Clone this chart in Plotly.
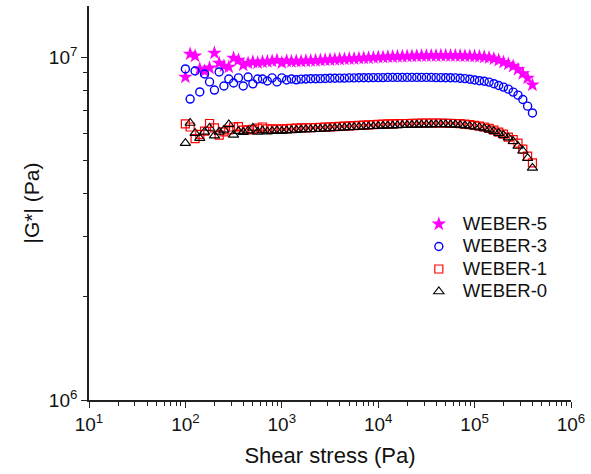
import plotly.graph_objects as go

# Shear stress sweep (Pa), 20 points per decade
shear_stress = [
    100, 112, 126, 141, 158, 178, 200, 224, 251, 282, 316, 355, 398, 447, 501, 562, 631, 708, 794, 891,
    1000, 1122, 1259, 1413, 1585, 1778, 1995, 2239, 2512, 2818, 3162, 3548, 3981, 4467, 5012, 5623, 6310, 7079, 7943, 8913,
    10000, 11220, 12589, 14125, 15849, 17783, 19953, 22387, 25119, 28184, 31623, 35481, 39811, 44668, 50119, 56234, 63096, 70795, 79433, 89125,
    100000, 112202, 125893, 141254, 158489, 177828, 199526, 223872, 251189, 281838, 316228, 354813, 398107,
]

# |G*| in MPa for each sample
weber5 = [
    8.74, 10.20, 10.07, 9.23, 9.10, 9.29, 10.27, 9.60, 9.41, 9.35, 9.93, 9.80, 9.48, 9.60, 9.67, 9.62, 9.67, 9.70, 9.73, 9.78,
    9.62, 9.74, 9.70, 9.72, 9.71, 9.74, 9.75, 9.77, 9.78, 9.80,
    9.82, 9.83, 9.85, 9.86, 9.88, 9.89, 9.91, 9.93, 9.94, 9.96,
    9.98, 9.99, 10.01, 10.02, 10.03, 10.04, 10.05, 10.06, 10.07, 10.08,
    10.08, 10.09, 10.09, 10.10, 10.10, 10.09, 10.09, 10.08, 10.07, 10.06,
    10.05, 10.03, 10.00, 9.95, 9.88, 9.78, 9.65, 9.54, 9.40, 9.20, 8.95, 8.68, 8.29,
]
weber3 = [
    9.23, 7.54, 9.10, 7.91, 8.92, 8.46, 8.01, 9.04, 8.23, 8.63, 8.40, 8.69, 8.23, 8.74, 8.35, 8.63, 8.63, 8.51, 8.69, 8.46,
    8.69, 8.57, 8.63, 8.58, 8.62, 8.63, 8.64, 8.64, 8.65, 8.66,
    8.67, 8.67, 8.68, 8.68, 8.69, 8.69, 8.70, 8.70, 8.70, 8.71,
    8.71, 8.71, 8.72, 8.72, 8.72, 8.72, 8.72, 8.72, 8.72, 8.72,
    8.72, 8.72, 8.71, 8.71, 8.70, 8.70, 8.69, 8.67, 8.65, 8.61,
    8.57, 8.53, 8.50, 8.45, 8.36, 8.26, 8.17, 8.06, 7.90, 7.74, 7.52, 7.19, 6.87,
]
weber1 = [
    6.38, 6.25, 5.78, 5.95, 6.08, 6.40, 6.21, 5.92, 6.05, 6.13, 6.25, 6.27, 6.12, 6.13, 6.15, 6.20, 6.25, 6.17, 6.17, 6.16,
    6.17, 6.18, 6.19, 6.20, 6.21, 6.22, 6.22, 6.23, 6.24, 6.25,
    6.26, 6.27, 6.28, 6.29, 6.30, 6.31, 6.32, 6.33, 6.34, 6.35,
    6.36, 6.37, 6.38, 6.38, 6.39, 6.40, 6.40, 6.41, 6.41, 6.42,
    6.42, 6.42, 6.42, 6.42, 6.41, 6.41, 6.40, 6.39, 6.37, 6.35,
    6.32, 6.29, 6.25, 6.19, 6.12, 6.04, 5.96, 5.84, 5.74, 5.61, 5.39, 5.14, 4.91,
]
weber0 = [
    5.61, 6.42, 6.00, 5.80, 6.05, 6.21, 5.90, 6.05, 6.13, 6.36, 5.93, 6.08, 6.04, 6.10, 6.21, 6.05, 6.10, 6.06, 6.08, 6.10,
    6.08, 6.10, 6.11, 6.12, 6.14, 6.15, 6.15, 6.16, 6.17, 6.18,
    6.19, 6.20, 6.21, 6.22, 6.23, 6.24, 6.25, 6.26, 6.27, 6.28,
    6.29, 6.30, 6.31, 6.31, 6.32, 6.33, 6.33, 6.34, 6.34, 6.35,
    6.35, 6.35, 6.36, 6.36, 6.36, 6.35, 6.35, 6.33, 6.31, 6.29,
    6.26, 6.23, 6.19, 6.14, 6.08, 6.00, 5.92, 5.82, 5.68, 5.50, 5.33, 5.07, 4.75,
]

series_names = ["WEBER-5", "WEBER-3", "WEBER-1", "WEBER-0"]

# decade ticks
x_tick_vals = [1e1, 1e2, 1e3, 1e4, 1e5, 1e6]
x_tick_text = ["10<sup>1</sup>", "10<sup>2</sup>", "10<sup>3</sup>", "10<sup>4</sup>", "10<sup>5</sup>", "10<sup>6</sup>"]
y_tick_vals = [1e6, 1e7]
y_tick_text = ["10<sup>6</sup>", "10<sup>7</sup>"]

FONT = "Arial, Liberation Sans, sans-serif"
AXIS_COLOR = "#222222"
TEXT_COLOR = "#111111"

styles = {
    "WEBER-5": dict(symbol="star", size=11, color="#FF00FF", line=dict(width=0)),
    "WEBER-3": dict(symbol="circle-open", size=8, color="#0000FF", line=dict(width=1.4)),
    "WEBER-1": dict(symbol="square-open", size=8, color="#FF0000", line=dict(width=1.2)),
    "WEBER-0": dict(symbol="triangle-up-open", size=9, color="#000000", line=dict(width=1.1)),
}
values = {"WEBER-5": weber5, "WEBER-3": weber3, "WEBER-1": weber1, "WEBER-0": weber0}

fig = go.Figure()
for name in series_names:
    fig.add_trace(go.Scatter(
        x=shear_stress,
        y=[v * 1e6 for v in values[name]],
        mode="markers",
        # larger label text inside a compact legend row
        name=f'<span style="font-size:18.5px">{name}</span>',
        marker=styles[name],
    ))

x_range = [1, 6]
y_range = [6, 7.1487]

common_axis = dict(
    type="log",
    showgrid=False,
    zeroline=False,
    showline=True,
    linecolor=AXIS_COLOR,
    linewidth=1.6,
    tickcolor=AXIS_COLOR,
    tickwidth=1.4,
    tickfont=dict(family=FONT, size=19, color=TEXT_COLOR),
)

fig.update_layout(
    width=591,
    height=474,
    margin=dict(l=89, r=16, t=6, b=74),
    paper_bgcolor="white",
    plot_bgcolor="white",
    showlegend=True,
    legend=dict(
        x=0.676, y=0.488, xanchor="left", yanchor="top",
        bgcolor="rgba(0,0,0,0)",
        font=dict(family=FONT, size=15, color=TEXT_COLOR),
        itemwidth=38,
        tracegroupgap=0,
    ),
    xaxis=dict(
        **common_axis,
        range=x_range,
        tickvals=x_tick_vals,
        ticktext=x_tick_text,
        ticks="outside",
        ticklen=6,
        minor=dict(ticks="outside", ticklen=4, dtick="D1", tickcolor=AXIS_COLOR, tickwidth=1.2),
        title=dict(text="Shear stress (Pa)", font=dict(family=FONT, size=22, color=TEXT_COLOR), standoff=14),
    ),
    yaxis=dict(
        **common_axis,
        range=y_range,
        tickvals=y_tick_vals,
        ticktext=y_tick_text,
        ticks="outside",
        ticklen=6,
        minor=dict(ticks="outside", ticklen=4, dtick="D1", tickcolor=AXIS_COLOR, tickwidth=1.2),
        title=dict(text="|G*| (Pa)", font=dict(family=FONT, size=21, color=TEXT_COLOR), standoff=4),
    ),
    # frame on top and right with inward ticks
    xaxis2=dict(
        type="log", range=x_range, overlaying="x", side="top",
        showline=True, linecolor=AXIS_COLOR, linewidth=1.6,
        showgrid=False, zeroline=False, showticklabels=False,
        ticks="inside", ticklen=6, tickcolor=AXIS_COLOR, tickwidth=1.4, dtick=1,
        minor=dict(ticks="inside", ticklen=4, dtick="D1", tickcolor=AXIS_COLOR, tickwidth=1.2),
    ),
    yaxis2=dict(
        type="log", range=y_range, overlaying="y", side="right",
        showline=True, linecolor=AXIS_COLOR, linewidth=1.6,
        showgrid=False, zeroline=False, showticklabels=False,
        ticks="inside", ticklen=6, tickcolor=AXIS_COLOR, tickwidth=1.4, dtick=1,
        minor=dict(ticks="inside", ticklen=4, dtick="D1", tickcolor=AXIS_COLOR, tickwidth=1.2),
    ),
)

fig.write_html("out.html")
